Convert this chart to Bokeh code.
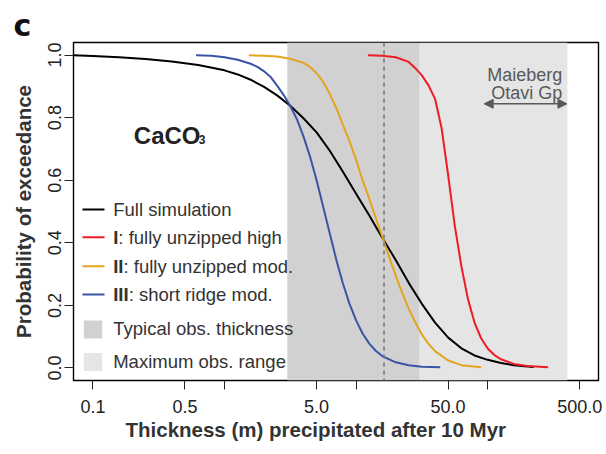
import math
from bokeh.plotting import figure
from bokeh.models import BoxAnnotation, Span, Label, Arrow, NormalHead, FixedTicker, Title
from bokeh.embed import file_html
from bokeh.resources import INLINE

# ---------------- data ----------------
full_x = [0.0708, 0.1, 0.158, 0.251, 0.398, 0.631, 1.0, 1.26, 1.58, 2.0, 2.51, 3.16, 3.98, 5.01,
          6.31, 7.94, 10.0, 12.6, 15.8, 20.0, 25.1, 31.6, 39.8, 50.1, 63.1, 79.4, 100, 126, 158, 200, 224]
full_p = [0.999, 0.997, 0.993, 0.987, 0.979, 0.968, 0.951, 0.938, 0.921, 0.898, 0.871, 0.838, 0.798, 0.753,
          0.694, 0.627, 0.557, 0.487, 0.416, 0.345, 0.272, 0.205, 0.145, 0.097, 0.063, 0.040, 0.026, 0.016,
          0.009, 0.005, 0.003]

high_x = [12.3, 15.8, 20.0, 25.1, 28.2, 31.6, 35.5, 39.8, 44.7, 50.1, 56.2, 63.1, 70.8, 79.4, 89.1,
          100, 112, 126, 158, 200, 288]
high_p = [0.999, 0.998, 0.993, 0.978, 0.958, 0.935, 0.903, 0.86, 0.765, 0.615, 0.455, 0.325, 0.22, 0.145,
          0.095, 0.062, 0.042, 0.028, 0.013, 0.006, 0.002]

mod_x = [1.53, 2.0, 2.51, 3.16, 3.98, 4.47, 5.01, 5.62, 6.31, 7.08, 7.94, 8.91, 10.0, 11.2, 12.6, 14.1,
         15.8, 17.8, 20.0, 22.4, 25.1, 28.2, 31.6, 35.5, 39.8, 50.1, 63.1, 89.1]
mod_p = [0.999, 0.998, 0.995, 0.988, 0.975, 0.962, 0.942, 0.914, 0.876, 0.83, 0.777, 0.725, 0.665, 0.60,
         0.54, 0.48, 0.42, 0.355, 0.295, 0.24, 0.19, 0.145, 0.107, 0.077, 0.054, 0.024, 0.009, 0.002]

short_x = [0.607, 0.794, 1.0, 1.26, 1.58, 1.78, 2.0, 2.24, 2.51, 2.82, 3.16, 3.55, 3.98, 4.47, 5.01,
           5.62, 6.31, 7.08, 7.94, 8.91, 10.0, 11.2, 12.6, 14.1, 15.8, 20.0, 25.1, 31.6, 43.6]
short_p = [0.999, 0.998, 0.993, 0.985, 0.972, 0.962, 0.948, 0.93, 0.902, 0.872, 0.837, 0.795, 0.74, 0.675,
           0.60, 0.515, 0.43, 0.345, 0.27, 0.205, 0.152, 0.11, 0.078, 0.055, 0.038, 0.018, 0.009, 0.004, 0.002]

typical_obs = [3.0, 30.3]      # dark grey band (m)
max_obs = [30.3, 403.0]        # light grey band (m)
reference_thickness = 16.3     # dashed line (m)
maieberg_range = [94.0, 400.0]

x_ticks = [0.1, 0.5, 1, 5, 10, 50, 100, 500]
x_tick_labels = ["0.1", "0.5", "", "5.0", "", "50.0", "", "500.0"]
y_ticks = [0.0, 0.2, 0.4, 0.6, 0.8, 1.0]
y_tick_labels = ["0.0", "0.2", "0.4", "0.6", "0.8", "1.0"]

series_names = ["Full simulation", "I", "II", "III"]
series_rest = ["", ": fully unzipped high", ": fully unzipped mod.", ": short ridge mod."]
series_colors = ["#000000", "#ee1c25", "#e3a41f", "#3954a5"]

# ---------------- layout ----------------
W, H = 606, 454
FL, FR, FT, FB = 73, 598, 42, 380
XR = (0.0712, 695.0)
YR = (-0.04, 1.04)
FONT = "Liberation Sans"
LEG_FS = "18.5px"

lx0, lx1 = math.log10(XR[0]), math.log10(XR[1])


def px_x(px):
    return 10 ** (lx0 + (px - FL) / (FR - FL) * (lx1 - lx0))


def py_y(py):
    return YR[1] - (py - FT) / (FB - FT) * (YR[1] - YR[0])


p = figure(width=W, height=H, x_axis_type="log", x_range=XR, y_range=YR,
           output_backend="svg", toolbar_location=None,
           min_border_left=FL, min_border_right=W - FR,
           min_border_top=FT, min_border_bottom=H - FB)
p.background_fill_color = "white"
p.border_fill_color = "white"
p.grid.visible = False
p.outline_line_color = "black"
p.outline_line_width = 1.4

# panel letter as the plot title
p.title.text = "c"
p.title.align = "left"
p.title.offset = -60
p.title.standoff = 0
p.title.text_font = "DejaVu Sans"
p.title.text_font_size = "30px"
p.title.text_font_style = "bold"
p.title.text_color = "#111111"

# bands
p.add_layout(BoxAnnotation(left=max_obs[0], right=max_obs[1], fill_color="#e4e5e4",
                           fill_alpha=1, line_color=None, level="underlay"))
p.add_layout(BoxAnnotation(left=typical_obs[0], right=typical_obs[1], fill_color="#d1d1d1",
                           fill_alpha=1, line_color=None, level="underlay"))
p.add_layout(Span(location=reference_thickness, dimension="height", line_color="#777777",
                  line_width=1.6, line_dash="4 4"))

# curves
for xs, ys, c in [(full_x, full_p, series_colors[0]), (high_x, high_p, series_colors[1]),
                  (mod_x, mod_p, series_colors[2]), (short_x, short_p, series_colors[3])]:
    p.line(xs, ys, line_color=c, line_width=2)

# axes
p.xaxis.ticker = FixedTicker(ticks=x_ticks, minor_ticks=[])
p.xaxis.major_label_overrides = {t: l for t, l in zip(x_ticks, x_tick_labels)}
p.yaxis.ticker = FixedTicker(ticks=y_ticks, minor_ticks=[])
p.yaxis.major_label_overrides = {t: l for t, l in zip(y_ticks, y_tick_labels)}
p.yaxis.major_label_orientation = "vertical"
for ax in (p.xaxis[0], p.yaxis[0]):
    ax.axis_line_color = None
    ax.major_tick_in = 0
    ax.major_tick_out = 9
    ax.major_tick_line_color = "#222222"
    ax.major_tick_line_width = 1
    ax.minor_tick_line_color = None
    ax.major_label_text_font = FONT
    ax.major_label_text_font_size = "18px"
    ax.major_label_text_color = "#222222"
    ax.axis_label_text_font = FONT
    ax.axis_label_text_font_size = "20.5px"
    ax.axis_label_text_font_style = "bold"
    ax.axis_label_text_color = "#333333"
p.yaxis.axis_label = "Probability of exceedance"
p.xaxis.major_label_standoff = 10
p.yaxis.major_label_standoff = 3
p.yaxis.axis_label_standoff = 11

# x-axis title (offset to the left, as in the reference)
p.add_layout(Title(text="Thickness (m) precipitated after 10 Myr", align="left", offset=52,
                   vertical_align="top", standoff=4, text_font=FONT, text_font_size="20.5px",
                   text_font_style="bold", text_color="#333333"), "below")

# legend (drawn by hand, no background)
rows = [209, 236.7, 265.7, 294]
for name, rest, col, ry in zip(series_names, series_rest, series_colors, rows):
    yy = py_y(ry)
    p.add_layout(Arrow(x_start=px_x(82), x_end=px_x(104), y_start=yy, y_end=yy,
                       start=None, end=None, line_color=col, line_width=2))
    if rest:
        p.add_layout(Label(x=px_x(112.7), y=yy, text=name, text_font=FONT, text_font_size=LEG_FS,
                           text_font_style="bold", text_color="#333333", text_baseline="middle"))
        p.add_layout(Label(x=px_x(112.7), y=yy, x_offset=5.15 * len(name), text=rest, text_font=FONT,
                           text_font_size=LEG_FS, text_color="#333333", text_baseline="middle"))
    else:
        p.add_layout(Label(x=px_x(112.7), y=yy, text=name, text_font=FONT, text_font_size=LEG_FS,
                           text_color="#333333", text_baseline="middle"))

for label, col, cy in [("Typical obs. thickness", "#d1d1d1", 329), ("Maximum obs. range", "#e4e5e4", 361.5)]:
    p.add_layout(BoxAnnotation(left=px_x(83.3), right=px_x(101.7), top=py_y(cy - 9), bottom=py_y(cy + 9),
                               fill_color=col, fill_alpha=1, line_color=None))
    p.add_layout(Label(x=px_x(112.7), y=py_y(cy - 1), text=label, text_font=FONT, text_font_size=LEG_FS,
                       text_color="#333333", text_baseline="middle"))

# CaCO3 label
p.add_layout(Label(x=px_x(133.3), y=py_y(135), text="CaCO", text_font=FONT, text_font_size="24px",
                   text_font_style="bold", text_color="#222222", text_baseline="alphabetic"))
p.add_layout(Label(x=px_x(133.3), y=py_y(138.5), x_offset=65, text="3", text_font=FONT,
                   text_font_size="12px", text_font_style="bold", text_color="#222222",
                   text_baseline="alphabetic"))

# Maieberg annotation
for txt, by in [("Maieberg", 74), ("Otavi Gp", 92.7)]:
    p.add_layout(Label(x=px_x(561.7), y=py_y(by), text=txt, text_font=FONT, text_font_size="18px",
                       text_color="#595959", text_align="right", text_baseline="alphabetic"))
ay = py_y(103.3)
p.add_layout(Arrow(x_start=maieberg_range[0], x_end=maieberg_range[1], y_start=ay, y_end=ay,
                   line_color="#595959", line_width=1.6,
                   start=NormalHead(size=9, fill_color="#595959", line_color="#595959"),
                   end=NormalHead(size=9, fill_color="#595959", line_color="#595959")))

open("out.html", "w").write(file_html(p, INLINE))
